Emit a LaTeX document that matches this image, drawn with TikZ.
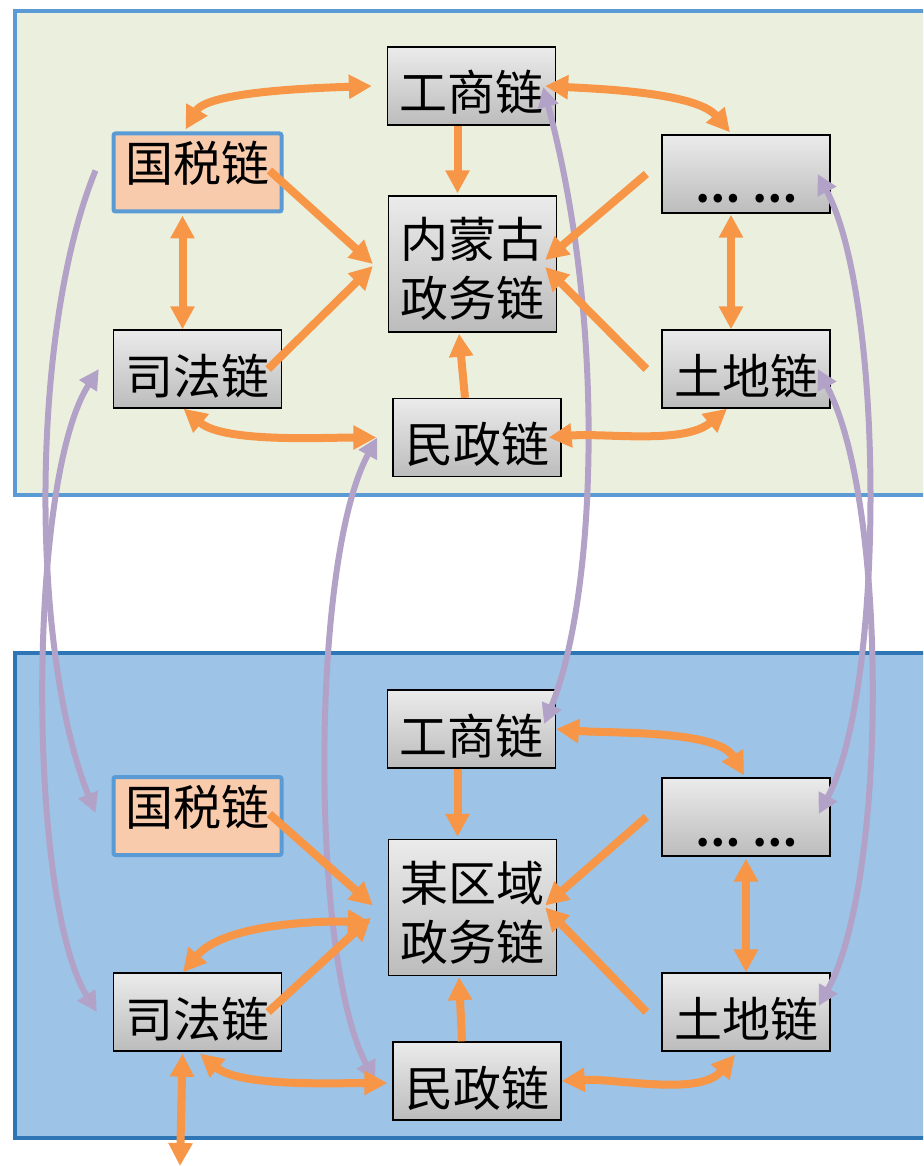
\documentclass[tikz,border=0pt]{standalone}
\usepackage{fontspec}
\newfontfamily\cjk{Noto Sans CJK SC}
\usetikzlibrary{arrows.meta}

\definecolor{panelA}{HTML}{EBF0DE}
\definecolor{panelAline}{HTML}{5B9BD5}
\definecolor{panelB}{HTML}{9DC3E6}
\definecolor{panelBline}{HTML}{2E75B6}
\definecolor{arrowor}{HTML}{F79646}
\definecolor{arrowpu}{HTML}{B3A2C7}
\definecolor{peach}{HTML}{F8CBAD}
\definecolor{boxtop}{HTML}{EBEBEB}
\definecolor{boxbot}{HTML}{BCBCBC}

\tikzset{
  box/.style={minimum width=168pt,minimum height=78pt,inner sep=0pt,
              font=\cjk\fontsize{48}{59}\selectfont},
  onerow/.style={text height=50pt,text depth=0pt},
  greybox/.style={box,draw=black,line width=1.3pt,top color=boxtop,bottom color=boxbot},
  taxbox/.style={box,text height=18pt,text depth=0pt,draw=panelAline,line width=4pt,fill=peach,rounded corners=2pt},
  oone/.style={-{Triangle[length=23pt,width=23pt]}},
  oboth/.style={{Triangle[length=23pt,width=23pt]}-{Triangle[length=23pt,width=23pt]}},
  pone/.style={draw=arrowpu,line width=6pt,-{Triangle[length=20pt,width=20pt]}},
  pboth/.style={draw=arrowpu,line width=6pt,{Triangle[length=20pt,width=20pt]}-{Triangle[length=20pt,width=20pt]}}
}
\newcommand{\dotsrow}{\bfseries\fontsize{40}{48}\selectfont\raisebox{-4pt}{…\hspace{0.3em}…}}

\begin{document}
\begin{tikzpicture}[x=1pt,y=-1pt]
\useasboundingbox (0,0) rectangle (923,1166);
\clip (0,0) rectangle (923,1166);

\draw[panelAline,line width=3.5pt,fill=panelA] (15,11) rectangle (940,495);
\draw[panelBline,line width=4pt,fill=panelB] (15,653) rectangle (940,1138);

\begin{scope}[every node/.style={greybox,onerow}]
    \node (GS1) at (471.5,86)   {工商链};
    \node (D1)  at (746,174)    {\dotsrow};
    \node (SF1) at (197.5,369)  {司法链};
    \node (TD1) at (746,369)    {土地链};
    \node (MZ1) at (477,437.5)  {民政链};

    \node (GS2) at (471.5,729)  {工商链};
    \node (D2)  at (746,817)    {\dotsrow};
    \node (SF2) at (197.5,1012) {司法链};
    \node (TD2) at (746,1012)   {土地链};
    \node (MZ2) at (477,1081)   {民政链};
\end{scope}
\node[greybox,minimum height=136pt,align=center] (C1) at (472.5,264)   {\rule{0pt}{50pt}内蒙古\\政务链};
\node[greybox,minimum height=136pt,align=center] (C2) at (472.5,907.5) {\rule{0pt}{50pt}某区域\\政务链};
\node[taxbox] (GX1) at (197.5,172.5) {国税链};
\node[taxbox] (GX2) at (197.5,816)   {国税链};
\coordinate (out) at (180,1166);

% between the two levels
\draw[pone]  ([xshift=-16pt,yshift=2pt]GX1.west) .. controls (30,330) and (30,650) .. ([xshift=-16pt,yshift=3pt]GX2.west);
\draw[pboth] ([xshift=-14pt]SF1.west) .. controls (27,480) and (27,900) .. ([xshift=-16pt]SF2.west);
\draw[pboth] ([xshift=-15pt]MZ1.west) .. controls (310,560) and (310,960) .. ([xshift=-17pt]MZ2.west);
\draw[pboth] ([xshift=-13pt,yshift=-1pt]GS1.east) .. controls (608,330) and (595,600) .. ([xshift=-12pt,yshift=5pt]GS2.east);
\draw[pboth] ([xshift=-13pt]D1.east) .. controls (885,300) and (885,690) .. ([xshift=-12pt,yshift=3pt]D2.east);
\draw[pboth] ([xshift=-13pt]TD1.east) .. controls (888,500) and (888,880) .. ([xshift=-12pt,yshift=6pt]TD2.east);

\begin{scope}[every edge/.style={draw=arrowor,line width=8pt}]
    \path ([xshift=-12pt,yshift=2pt]GX1.north) edge[oboth,out=60,in=182,looseness=0.6] ([xshift=-15pt]GS1.west);
    \path ([xshift=-11pt]GS1.east) edge[oboth,out=-3,in=130,looseness=0.7] ([xshift=-16pt,yshift=2pt]D1.north);
    \path ([xshift=-14pt]GS1.south) edge[oone] ([xshift=-15pt,yshift=2pt]C1.north);
    \path ([xshift=-14pt,yshift=2pt]GX1.east) edge[oone] ([xshift=-15pt]C1.west);
    \path ([xshift=-14pt]SF1.east) edge[oone] ([xshift=-15pt,yshift=-2pt]C1.west);
    \path ([xshift=-15pt]D1.west) edge[oone] ([xshift=-12pt,yshift=4pt]C1.east);
    \path ([xshift=-15pt]TD1.west) edge[oone] ([xshift=-12pt,yshift=-3pt]C1.east);
    \path ([xshift=-12pt]MZ1.north) edge[oone] ([xshift=-13.5pt,yshift=-1pt]C1.south);
    \path ([xshift=-15pt,yshift=-2pt]GX1.south) edge[oboth] ([xshift=-15pt]SF1.north);
    \path ([xshift=-15pt,yshift=-1pt]D1.south) edge[oboth] ([xshift=-15pt]TD1.north);
    \path ([xshift=-14pt]SF1.south) edge[oboth,out=-40,in=180,looseness=0.7] ([xshift=-16pt]MZ1.west);
    \path ([xshift=-13pt]MZ1.east) edge[oboth,out=5,in=-140,looseness=0.8] ([xshift=-19pt]TD1.south);

    \path (GS2.east) edge[oboth,out=-5,in=120,looseness=0.7] ([xshift=-2pt,yshift=2pt]D2.north);
    \path ([xshift=-14pt]GS2.south) edge[oone] ([xshift=-15pt,yshift=2pt]C2.north);
    \path ([xshift=-14pt,yshift=2pt]GX2.east) edge[oone] ([xshift=-15pt,yshift=2pt]C2.west);
    \path ([xshift=-14pt]SF2.east) edge[oone] ([xshift=-17pt,yshift=-10pt]C2.west);
    \path ([xshift=-15pt]D2.west) edge[oone] ([xshift=-12pt,yshift=2pt]C2.east);
    \path ([xshift=-15pt]TD2.west) edge[oone] ([xshift=-12pt]C2.east);
    \path ([xshift=-15pt]MZ2.north) edge[oone] ([xshift=-13.5pt,yshift=-1pt]C2.south);
    \path ([yshift=-2pt]D2.south) edge[oboth] (TD2.north);
    \path ([xshift=2.5pt,yshift=-2pt]SF2.south) edge[oboth,out=-40,in=180,looseness=0.7] ([xshift=-5pt,yshift=-2pt]MZ2.west);
    \path (MZ2.east) edge[oboth,out=3,in=-130,looseness=0.8] ([xshift=-11pt,yshift=-3pt]TD2.south);
    \path ([xshift=-17pt,yshift=-15pt]C2.west) edge[oboth,out=178,in=50,looseness=0.8] ([xshift=-14.5pt]SF2.north);
    \path ([xshift=-15pt,yshift=-2pt]SF2.south) edge[oboth] (out);
\end{scope}
\end{tikzpicture}
\end{document}
